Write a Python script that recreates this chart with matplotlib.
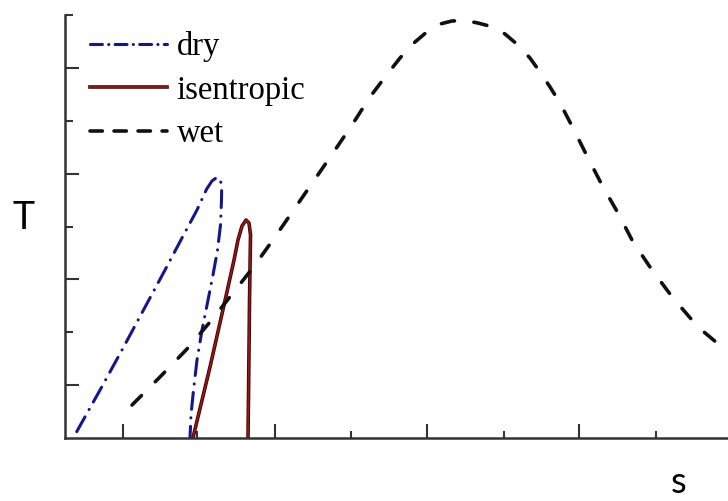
import matplotlib
matplotlib.use("Agg")
import matplotlib.pyplot as plt
from matplotlib.lines import Line2D
import matplotlib.patheffects as pe

plt.rcParams['lines.scale_dashes'] = False

# ---- data (arbitrary s / T units) ----
dry_s = [0.154, 0.461, 0.750, 1.075, 1.316, 1.539, 1.737, 1.864, 1.934, 1.996,
         2.039, 2.062, 2.059, 2.046, 2.007, 1.947, 1.882, 1.803, 1.737, 1.691,
         1.658, 1.645]
dry_T = [0.114, 0.903, 1.661, 2.532, 3.176, 3.782, 4.313, 4.710, 4.862, 4.928,
         4.900, 4.767, 4.502, 4.028, 3.555, 3.081, 2.608, 2.040, 1.472, 0.903,
         0.430, 0.0]

isen_s = [1.684, 1.908, 2.128, 2.224, 2.276, 2.329, 2.382, 2.421, 2.441, 2.438,
          2.428, 2.417, 2.408]
isen_T = [0.0, 1.339, 2.741, 3.366, 3.744, 4.009, 4.123, 4.066, 3.839, 3.555,
          2.608, 1.093, 0.0]

wet_s = [0.882, 1.250, 1.605, 1.908, 2.211, 2.500, 2.763, 3.026, 3.263, 3.526,
         3.776, 4.013, 4.211, 4.408, 4.605, 4.776, 4.934, 5.092, 5.263, 5.434,
         5.632, 5.789, 5.961, 6.118, 6.250, 6.382, 6.513, 6.684, 6.882, 7.079,
         7.276, 7.474, 7.724, 8.000, 8.329, 8.658, 8.947]
wet_T = [0.619, 1.150, 1.680, 2.191, 2.741, 3.271, 3.801, 4.350, 4.843, 5.392,
         5.922, 6.453, 6.831, 7.191, 7.494, 7.703, 7.835, 7.892, 7.902, 7.854,
         7.778, 7.646, 7.437, 7.191, 6.926, 6.642, 6.339, 5.866, 5.297, 4.748,
         4.256, 3.707, 3.176, 2.646, 2.097, 1.699, 1.434]

labels = ["dry", "isentropic", "wet"]
x_major = [0.76, 2.76, 4.76, 6.76]
x_minor = [1.74, 3.76, 5.77, 7.78]
y_major = [1, 3, 5, 7]
y_minor = [2, 4, 6, 8]

# ---- styles ----
c_dry = "#16168a"
c_isen = "#961616"
c_wet = "#111111"
dry_ls = (0, (12.2, 6.1, 0.1, 6.1))
wet_ls = (0, (9.6, 14.1))
dry_ls_leg = (0, (8.6, 4.5, 0.1, 4.5))
wet_ls_leg = (0, (8.9, 8.4))
isen_fx = [pe.Stroke(linewidth=2.6, foreground="#3a0606"), pe.Normal()]

W, H = 728, 501
fig = plt.figure(figsize=(W / 100, H / 100), dpi=100)
ax = fig.add_axes([65 / W, (H - 437.7) / H, (W - 65) / W, (437.7 - 15.3) / H])

ax.plot(dry_s, dry_T, color=c_dry, lw=2.2, linestyle=dry_ls,
        dash_capstyle="round", solid_capstyle="round", dash_joinstyle="round")
ax.plot(isen_s, isen_T, color=c_isen, lw=1.3, path_effects=isen_fx,
        solid_joinstyle="round")
ax.plot(wet_s, wet_T, color=c_wet, lw=2.6, linestyle=wet_ls,
        dash_capstyle="round", dash_joinstyle="round")

ax.set_xlim(0, (W - 65) / 76.0)
ax.set_ylim(0, 8)

for side in ("top", "right"):
    ax.spines[side].set_visible(False)
for side in ("left", "bottom"):
    ax.spines[side].set_color("#333333")
    ax.spines[side].set_linewidth(1.8)

ax.set_xticks(x_major)
ax.set_xticks(x_minor, minor=True)
ax.set_yticks(y_major)
ax.set_yticks(y_minor, minor=True)
ax.tick_params(which="both", direction="in", labelbottom=False, labelleft=False,
               color="#333333", width=1.5)
ax.tick_params(which="major", length=9.8)
ax.tick_params(which="minor", length=5.4)

handles = [
    Line2D([], [], color=c_dry, lw=2.2, linestyle=dry_ls_leg, dash_capstyle="round"),
    Line2D([], [], color=c_isen, lw=1.3, path_effects=isen_fx),
    Line2D([], [], color=c_wet, lw=2.6, linestyle=wet_ls_leg, dash_capstyle="round"),
]
leg = ax.legend(handles, labels, loc="upper left",
                bbox_to_anchor=(90 / W, 1 - 31 / H), bbox_transform=fig.transFigure,
                frameon=False, prop={"family": "Liberation Serif", "size": 23.5},
                handlelength=2.35, handletextpad=0.3, labelspacing=0.4,
                borderpad=0, borderaxespad=0)

fig.text(23.5 / W, 1 - 229 / H, "T", ha="center", va="baseline",
         family="Lato", size=27)
fig.text(679 / W, 1 - 493 / H, "s", ha="center", va="baseline",
         family="Lato", size=26)

fig.savefig("out.png", dpi=100)
